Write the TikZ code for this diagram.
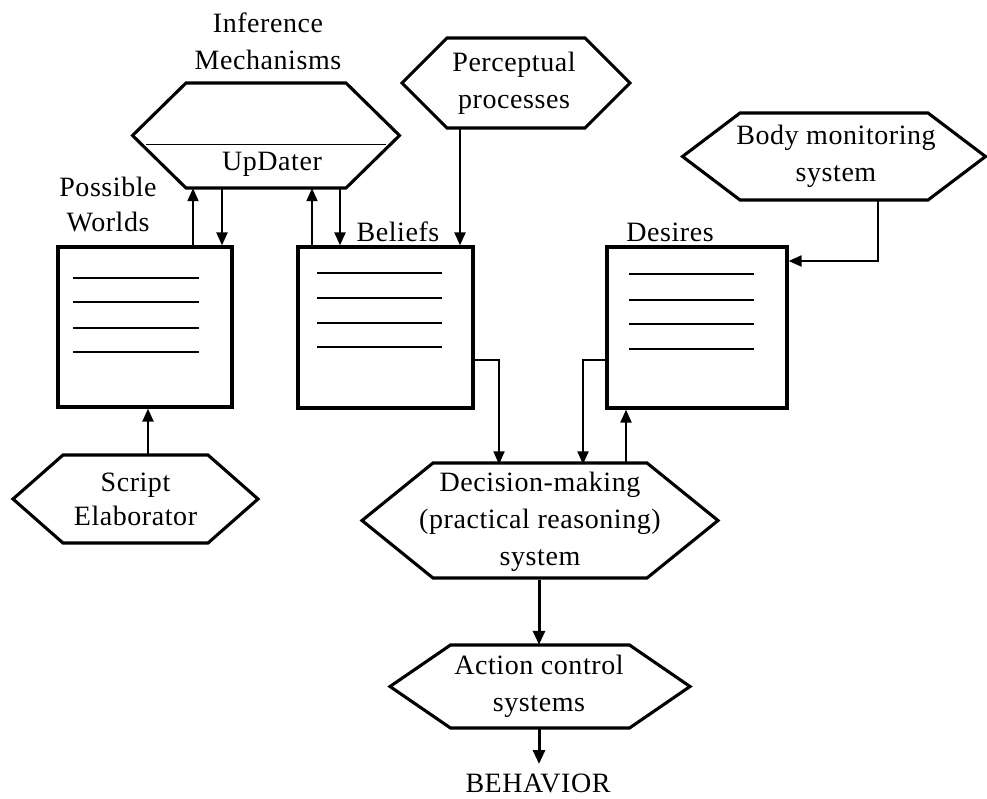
\documentclass[tikz,border=0pt]{standalone}
\usepackage{fontspec}
\setmainfont[LetterSpace=2]{Liberation Serif}
\usetikzlibrary{arrows.meta}
\newcommand\hexashape[6]{% cx, cy, half flat, half total, half height, style
  \draw[#6] (#1-#3,#2-#5) -- (#1+#3,#2-#5) -- (#1+#4,#2) -- (#1+#3,#2+#5)
     -- (#1-#3,#2+#5) -- (#1-#4,#2) -- cycle;}
\begin{document}
\begin{tikzpicture}[x=1pt,y=-1pt,
  hexline/.style={line width=3.1pt, line join=miter},
  boxline/.style={draw, line width=3.2pt, inner sep=0pt},
  listline/.style={line width=2pt},
  conn/.style={line width=2.1pt, -{Triangle[length=13pt,width=11pt]}},
  bigconn/.style={line width=3pt, -{Triangle[length=14pt,width=12pt]}},
  txt/.style={font=\fontsize{28}{37}\selectfont, align=center, inner sep=0pt},
  hexnode/.style={txt, draw=none}]
\useasboundingbox[fill=white] (0,0) rectangle (987,798);

% ---------- hexagons ----------
\hexashape{266}{135.5}{80}{133.5}{52.5}{hexline}
\node[hexnode, minimum width=160pt, minimum height=105pt] (inf) at (266,135.5) {};
\draw[line width=1pt] (146,144) -- (386,144);
\node[txt] (upd) at (272,164) {UpDater};
\node[txt] (inflab) at (268,41.5) {Inference\\Mechanisms};

\hexashape{516}{83}{69}{114}{45}{hexline}
\node[hexnode, minimum width=138pt, minimum height=90pt] (perc) at (514,83) {Perceptual\\processes};

\hexashape{834}{156.5}{94}{151.5}{43.5}{hexline}
\node[hexnode, minimum width=188pt, minimum height=87pt] (body) at (836,156.5) {Body monitoring\\system};

\hexashape{135.5}{499}{72.5}{122.5}{44}{hexline}
\node[hexnode, minimum width=145pt, minimum height=88pt, font=\fontsize{28}{34}\selectfont] (script) at (135.5,499) {Script\\Elaborator};

\hexashape{540}{520.5}{107}{178}{57.5}{hexline}
\node[hexnode, minimum width=214pt, minimum height=115pt] (dec) at (540,522) {Decision-making\\(practical reasoning)\\system};

\hexashape{540}{686.5}{89.5}{150}{41.5}{hexline}
\node[hexnode, minimum width=179pt, minimum height=83pt] (act) at (539,686.5) {Action control\\systems};

\node[txt] (beh) at (538,783) {BEHAVIOR};

% ---------- boxes ----------
\node[boxline, minimum width=174pt, minimum height=160pt] (pw) at (145,327) {};
\node[boxline, minimum width=175pt, minimum height=161pt] (bel) at (385.5,327.5) {};
\node[boxline, minimum width=180pt, minimum height=161pt] (des) at (697,327.5) {};

\foreach \yy in {278,302,328,352} \draw[listline] (73,\yy) -- (199,\yy);
\foreach \yy in {273,298,323,347} \draw[listline] (317,\yy) -- (442,\yy);
\foreach \yy in {274,300,324,349} \draw[listline] (629,\yy) -- (754,\yy);

\node[txt, font=\fontsize{28}{35}\selectfont] (pwlab) at (108,204.5) {Possible\\Worlds};
\node[txt] (bellab) at (398,232) {Beliefs};
\node[txt] (deslab) at (670,232) {Desires};

% ---------- connectors ----------
\draw[conn] (pw.north -| 193,0) -- (inf.south -| 193,0);
\draw[conn] (inf.south -| 222,0) -- (pw.north -| 222,0);
\draw[conn] (bel.north -| 312,0) -- (inf.south -| 312,0);
\draw[conn] (inf.south -| 340,0) -- (bel.north -| 340,0);
\draw[conn] (perc.south -| 460,0) -- (bel.north -| 460,0);
\draw[conn] (body.south -| 878,0) |- (des.east |- 0,261);
\draw[conn] (script.north -| 148,0) -- (pw.south -| 148,0);
\draw[conn] (bel.east |- 0,360) -| (dec.north -| 499,0);
\draw[conn] (des.west |- 0,360) -| (dec.north -| 583,0);
\draw[conn] (dec.north -| 626,0) -- (des.south -| 626,0);
\draw[bigconn] (dec.south -| 539,0) -- (act.north -| 539,0);
\draw[bigconn] (act.south -| 539,0) -- (539,764) coordinate (behtop);
\end{tikzpicture}
\end{document}
